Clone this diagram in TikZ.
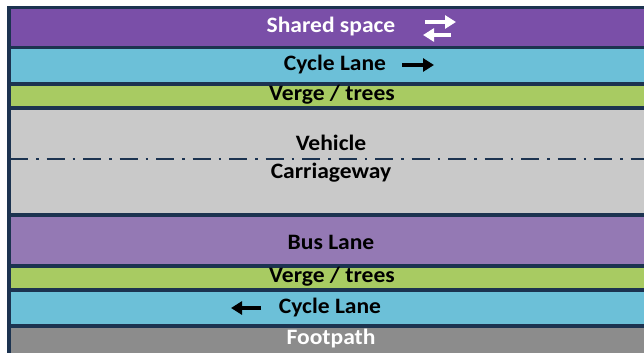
\documentclass[tikz,border=0pt]{standalone}
\usepackage{fontspec}
\setmainfont{Carlito}
\newfontfamily\lab[FakeStretch=1.07]{Carlito}
\usetikzlibrary{arrows.meta}
\definecolor{navy}{HTML}{1C3350}
\definecolor{sharedc}{HTML}{7A4FA8}
\definecolor{cyclec}{HTML}{6CC0D8}
\definecolor{vergec}{HTML}{A8CB62}
\definecolor{carc}{HTML}{C9C9C9}
\definecolor{busc}{HTML}{9479B4}
\definecolor{footc}{HTML}{8C8C8C}
\tikzset{
  lbl/.style={font=\lab\bfseries\fontsize{22}{22}\selectfont, text=black, inner sep=0pt, anchor=center},
  wlbl/.style={lbl, text=white},
  dirarrow/.style={line width=3.5pt, -{Triangle[length=11pt,width=13pt]}},
}
\begin{document}
\begin{tikzpicture}[x=1pt,y=-1pt]
\useasboundingbox (0,0) rectangle (644,353);
\fill[white] (0,0) rectangle (644,353);
\fill[navy] (7,6) rectangle (644,353);
% bands
\fill[sharedc] (11,9) rectangle (644,46);
\fill[cyclec] (11,49) rectangle (644,82);
\fill[vergec] (11,86) rectangle (644,106);
\fill[carc] (11,110) rectangle (644,213);
\fill[busc] (11,217) rectangle (644,264);
\fill[vergec] (11,268) rectangle (644,288);
\fill[cyclec] (11,292) rectangle (644,324);
\fill[footc] (11,328) rectangle (644,353);
% centre line
\coordinate (cl0) at (10,159);
\coordinate (cl1) at (644,159);
\draw[navy, line width=2.5pt, dash pattern=on 18pt off 8pt on 2.5pt off 8pt] (cl0) -- (cl1);
% labels
\node[wlbl] (shared) at (331,27) {Shared space};
\node[lbl] (cyc1) at (335,65) {Cycle Lane};
\node[lbl] (verge1) at (332,95) {Verge / trees};
\node[lbl] (veh) at (331,143) {Vehicle};
\node[lbl] (carr) at (331,173) {Carriageway};
\node[lbl] (bus) at (331,242) {Bus Lane};
\node[lbl] (verge2) at (332,277) {Verge / trees};
\node[lbl] (cyc2) at (330,308) {Cycle Lane};
\node[wlbl] (foot) at (331,339) {Footpath};
% direction arrows
\coordinate (sa0) at (425,22); \coordinate (sa1) at (456,22);
\coordinate (sb0) at (451,35); \coordinate (sb1) at (423,35);
\draw[dirarrow, white] (sa0) -- (sa1);
\draw[dirarrow, white] (sb0) -- (sb1);
\coordinate (ca0) at (402,65); \coordinate (ca1) at (434,65);
\draw[dirarrow, black] (ca0) -- (ca1);
\coordinate (cb0) at (261,308); \coordinate (cb1) at (231,308);
\draw[dirarrow, black] (cb0) -- (cb1);
\end{tikzpicture}
\end{document}
